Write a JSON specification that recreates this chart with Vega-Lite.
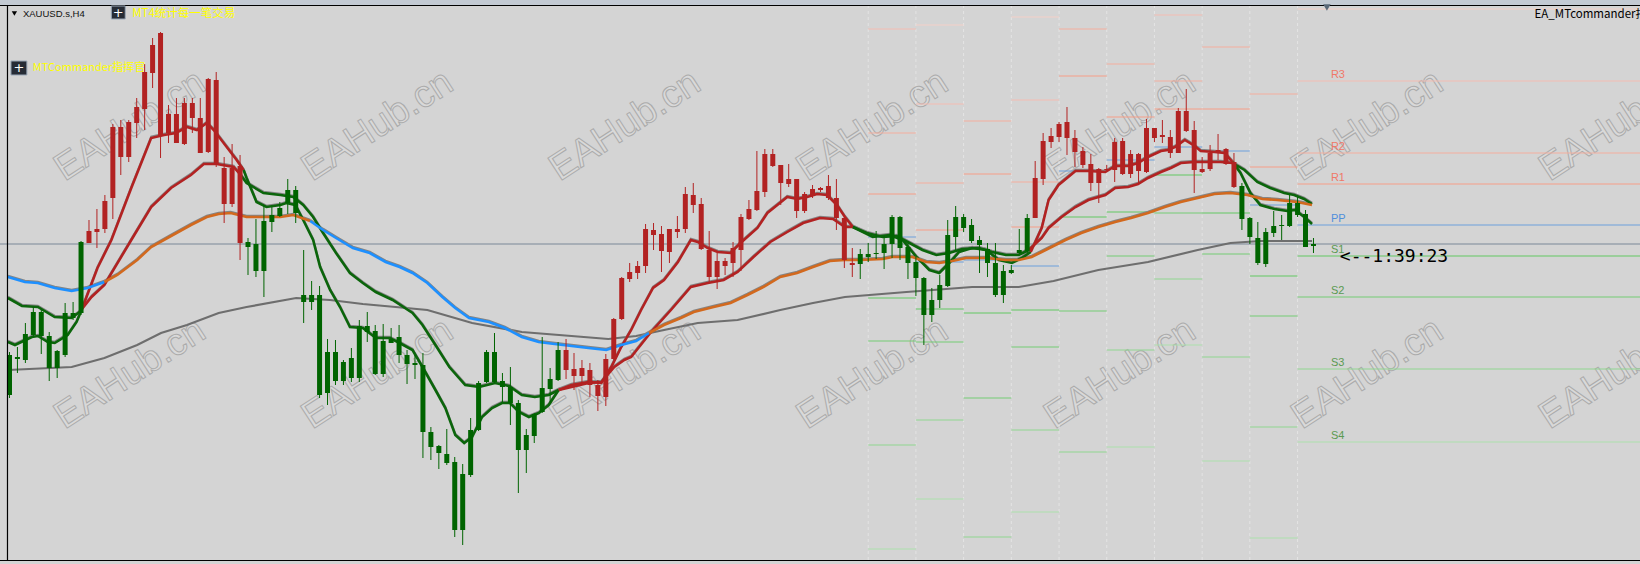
{
"$schema": "https://vega.github.io/schema/vega-lite/v6.json",
"width": 1640, "height": 564, "padding": 0, "autosize": {"type": "none"},
"background": "#d4d4d4",
"config": {"view": {"stroke": null}},
"resolve": {"scale": {"color": "independent"}},
"datasets": {
"candles": [
{"i":0,"o":245,"h":248,"l":202,"c":205,"t":"g"},{"i":1,"o":243,"h":253,"l":227,"c":241,"t":"g"},{"i":2,"o":266,"h":277,"l":237,"c":240,"t":"g"},{"i":3,"o":288,"h":293,"l":263,"c":265,"t":"g"},{"i":4,"o":288,"h":290,"l":246,"c":264,"t":"g"},{"i":5,"o":264,"h":268,"l":219,"c":232,"t":"g"},{"i":6,"o":249,"h":250,"l":222,"c":232,"t":"g"},{"i":7,"o":287,"h":297,"l":243,"c":245,"t":"g"},{"i":8,"o":287,"h":298,"l":280,"c":282,"t":"g"},{"i":9,"o":358,"h":359,"l":285,"c":287,"t":"g"},
{"i":10,"o":357,"h":380,"l":357,"c":369,"t":"r"},{"i":11,"o":368,"h":391,"l":352,"c":371,"t":"r"},{"i":12,"o":371,"h":405,"l":367,"c":399,"t":"r"},{"i":13,"o":402,"h":476,"l":381,"c":473,"t":"r"},{"i":14,"o":443,"h":480,"l":425,"c":473,"t":"r"},{"i":15,"o":443,"h":480,"l":438,"c":478,"t":"r"},{"i":16,"o":477,"h":502,"l":462,"c":493,"t":"r"},{"i":17,"o":491,"h":536,"l":470,"c":528,"t":"r"},{"i":18,"o":527,"h":562,"l":512,"c":555,"t":"r"},{"i":19,"o":464,"h":568,"l":442,"c":567,"t":"r"},
{"i":20,"o":467,"h":495,"l":457,"c":486,"t":"r"},{"i":21,"o":457,"h":502,"l":457,"c":486,"t":"r"},{"i":22,"o":456,"h":502,"l":455,"c":497,"t":"r"},{"i":23,"o":482,"h":502,"l":467,"c":497,"t":"r"},{"i":24,"o":447,"h":502,"l":447,"c":482,"t":"r"},{"i":25,"o":448,"h":522,"l":447,"c":521,"t":"r"},{"i":26,"o":437,"h":528,"l":433,"c":520,"t":"r"},{"i":27,"o":396,"h":443,"l":377,"c":432,"t":"r"},{"i":28,"o":396,"h":456,"l":393,"c":432,"t":"r"},{"i":29,"o":357,"h":445,"l":340,"c":434,"t":"r"},
{"i":30,"o":358,"h":362,"l":325,"c":353,"t":"g"},{"i":31,"o":356,"h":381,"l":323,"c":329,"t":"g"},{"i":32,"o":379,"h":395,"l":303,"c":329,"t":"g"},{"i":33,"o":385,"h":393,"l":368,"c":378,"t":"g"},{"i":34,"o":392,"h":398,"l":383,"c":384,"t":"g"},{"i":35,"o":410,"h":421,"l":386,"c":397,"t":"g"},{"i":36,"o":410,"h":414,"l":377,"c":387,"t":"g"},{"i":37,"o":305,"h":350,"l":277,"c":298,"t":"g"},{"i":38,"o":305,"h":319,"l":290,"c":298,"t":"g"},{"i":39,"o":305,"h":314,"l":202,"c":205,"t":"g"},
{"i":40,"o":248,"h":261,"l":195,"c":207,"t":"g"},{"i":41,"o":248,"h":260,"l":215,"c":219,"t":"g"},{"i":42,"o":238,"h":240,"l":215,"c":219,"t":"g"},{"i":43,"o":242,"h":252,"l":218,"c":222,"t":"g"},{"i":44,"o":274,"h":280,"l":218,"c":222,"t":"g"},{"i":45,"o":274,"h":288,"l":258,"c":268,"t":"g"},{"i":46,"o":269,"h":275,"l":225,"c":226,"t":"g"},{"i":47,"o":259,"h":276,"l":223,"c":226,"t":"g"},{"i":48,"o":261,"h":272,"l":257,"c":257,"t":"g"},{"i":49,"o":263,"h":275,"l":237,"c":245,"t":"g"},
{"i":50,"o":245,"h":250,"l":216,"c":236,"t":"g"},{"i":51,"o":237,"h":245,"l":221,"c":235,"t":"g"},{"i":52,"o":235,"h":247,"l":142,"c":168,"t":"g"},{"i":53,"o":168,"h":173,"l":140,"c":153,"t":"g"},{"i":54,"o":154,"h":155,"l":131,"c":147,"t":"g"},{"i":55,"o":146,"h":171,"l":135,"c":137,"t":"g"},{"i":56,"o":138,"h":143,"l":63,"c":70,"t":"g"},{"i":57,"o":126,"h":136,"l":55,"c":70,"t":"g"},{"i":58,"o":170,"h":182,"l":123,"c":125,"t":"g"},{"i":59,"o":217,"h":219,"l":169,"c":170,"t":"g"},
{"i":60,"o":248,"h":250,"l":217,"c":218,"t":"g"},{"i":61,"o":248,"h":267,"l":217,"c":218,"t":"g"},{"i":62,"o":219,"h":227,"l":198,"c":213,"t":"g"},{"i":63,"o":213,"h":233,"l":175,"c":197,"t":"g"},{"i":64,"o":197,"h":200,"l":107,"c":150,"t":"g"},{"i":65,"o":165,"h":171,"l":127,"c":150,"t":"g"},{"i":66,"o":186,"h":187,"l":157,"c":164,"t":"g"},{"i":67,"o":212,"h":263,"l":187,"c":188,"t":"g"},{"i":68,"o":221,"h":232,"l":198,"c":211,"t":"g"},{"i":69,"o":250,"h":258,"l":219,"c":220,"t":"g"},
{"i":70,"o":230,"h":261,"l":221,"c":250,"t":"r"},{"i":71,"o":224,"h":247,"l":210,"c":231,"t":"r"},{"i":72,"o":224,"h":240,"l":218,"c":232,"t":"r"},{"i":73,"o":215,"h":237,"l":203,"c":230,"t":"r"},{"i":74,"o":204,"h":220,"l":189,"c":215,"t":"r"},{"i":75,"o":203,"h":246,"l":194,"c":241,"t":"r"},{"i":76,"o":241,"h":282,"l":240,"c":281,"t":"r"},{"i":77,"o":281,"h":323,"l":280,"c":322,"t":"r"},{"i":78,"o":321,"h":337,"l":318,"c":328,"t":"r"},{"i":79,"o":327,"h":339,"l":321,"c":334,"t":"r"},
{"i":80,"o":334,"h":376,"l":327,"c":371,"t":"r"},{"i":81,"o":365,"h":377,"l":350,"c":370,"t":"r"},{"i":82,"o":349,"h":374,"l":328,"c":366,"t":"r"},{"i":83,"o":348,"h":371,"l":337,"c":371,"t":"r"},{"i":84,"o":368,"h":384,"l":362,"c":371,"t":"r"},{"i":85,"o":371,"h":413,"l":367,"c":406,"t":"r"},{"i":86,"o":395,"h":417,"l":387,"c":405,"t":"r"},{"i":87,"o":351,"h":402,"l":350,"c":396,"t":"r"},{"i":88,"o":323,"h":369,"l":317,"c":350,"t":"r"},{"i":89,"o":323,"h":347,"l":311,"c":339,"t":"r"},
{"i":90,"o":334,"h":342,"l":325,"c":339,"t":"r"},{"i":91,"o":337,"h":358,"l":323,"c":352,"t":"r"},{"i":92,"o":350,"h":386,"l":329,"c":383,"t":"r"},{"i":93,"o":381,"h":400,"l":380,"c":391,"t":"r"},{"i":94,"o":390,"h":449,"l":389,"c":409,"t":"r"},{"i":95,"o":408,"h":451,"l":403,"c":446,"t":"r"},{"i":96,"o":434,"h":451,"l":433,"c":446,"t":"r"},{"i":97,"o":417,"h":435,"l":395,"c":435,"t":"r"},{"i":98,"o":416,"h":436,"l":413,"c":421,"t":"r"},{"i":99,"o":389,"h":421,"l":382,"c":421,"t":"r"},
{"i":100,"o":389,"h":408,"l":387,"c":406,"t":"r"},{"i":101,"o":404,"h":415,"l":402,"c":411,"t":"r"},{"i":102,"o":410,"h":413,"l":408,"c":412,"t":"r"},{"i":103,"o":402,"h":425,"l":400,"c":414,"t":"r"},{"i":104,"o":382,"h":421,"l":370,"c":402,"t":"r"},{"i":105,"o":340,"h":383,"l":332,"c":382,"t":"r"},{"i":106,"o":335,"h":352,"l":323,"c":337,"t":"r"},{"i":107,"o":346,"h":351,"l":321,"c":336,"t":"g"},{"i":108,"o":346,"h":357,"l":338,"c":343,"t":"g"},{"i":109,"o":347,"h":369,"l":341,"c":346,"t":"g"},
{"i":110,"o":356,"h":364,"l":331,"c":347,"t":"g"},{"i":111,"o":383,"h":385,"l":342,"c":356,"t":"g"},{"i":112,"o":383,"h":384,"l":340,"c":352,"t":"g"},{"i":113,"o":353,"h":357,"l":321,"c":337,"t":"g"},{"i":114,"o":338,"h":343,"l":304,"c":322,"t":"g"},{"i":115,"o":322,"h":323,"l":255,"c":285,"t":"g"},{"i":116,"o":300,"h":312,"l":278,"c":285,"t":"g"},{"i":117,"o":315,"h":325,"l":292,"c":300,"t":"g"},{"i":118,"o":365,"h":380,"l":313,"c":314,"t":"g"},{"i":119,"o":383,"h":394,"l":350,"c":363,"t":"g"},
{"i":120,"o":383,"h":386,"l":368,"c":372,"t":"g"},{"i":121,"o":375,"h":381,"l":357,"c":359,"t":"g"},{"i":122,"o":360,"h":364,"l":327,"c":355,"t":"g"},{"i":123,"o":351,"h":357,"l":323,"c":337,"t":"g"},{"i":124,"o":337,"h":357,"l":303,"c":305,"t":"g"},{"i":125,"o":329,"h":335,"l":297,"c":305,"t":"g"},{"i":126,"o":330,"h":335,"l":326,"c":327,"t":"g"},{"i":127,"o":350,"h":371,"l":346,"c":347,"t":"g"},{"i":128,"o":382,"h":386,"l":347,"c":349,"t":"g"},{"i":129,"o":382,"h":439,"l":382,"c":422,"t":"r"},
{"i":130,"o":421,"h":467,"l":415,"c":459,"t":"r"},{"i":131,"o":458,"h":472,"l":452,"c":464,"t":"r"},{"i":132,"o":463,"h":478,"l":458,"c":476,"t":"r"},{"i":133,"o":462,"h":493,"l":445,"c":478,"t":"r"},{"i":134,"o":448,"h":470,"l":433,"c":462,"t":"r"},{"i":135,"o":435,"h":453,"l":432,"c":449,"t":"r"},{"i":136,"o":417,"h":446,"l":409,"c":436,"t":"r"},{"i":137,"o":417,"h":432,"l":397,"c":431,"t":"r"},{"i":138,"o":430,"h":435,"l":428,"c":431,"t":"r"},{"i":139,"o":430,"h":462,"l":418,"c":458,"t":"r"},
{"i":140,"o":426,"h":462,"l":425,"c":459,"t":"r"},{"i":141,"o":426,"h":450,"l":422,"c":446,"t":"r"},{"i":142,"o":429,"h":447,"l":417,"c":446,"t":"r"},{"i":143,"o":428,"h":481,"l":427,"c":472,"t":"r"},{"i":144,"o":462,"h":472,"l":458,"c":472,"t":"r"},{"i":145,"o":463,"h":480,"l":457,"c":465,"t":"r"},{"i":146,"o":447,"h":470,"l":442,"c":463,"t":"r"},{"i":147,"o":447,"h":492,"l":447,"c":489,"t":"r"},{"i":148,"o":469,"h":511,"l":468,"c":489,"t":"r"},{"i":149,"o":430,"h":479,"l":407,"c":470,"t":"r"},
{"i":150,"o":428,"h":443,"l":427,"c":431,"t":"r"},{"i":151,"o":431,"h":455,"l":429,"c":447,"t":"r"},{"i":152,"o":447,"h":466,"l":440,"c":450,"t":"r"},{"i":153,"o":436,"h":452,"l":435,"c":451,"t":"r"},{"i":154,"o":413,"h":447,"l":412,"c":438,"t":"r"},{"i":155,"o":414,"h":417,"l":370,"c":381,"t":"g"},{"i":156,"o":382,"h":383,"l":356,"c":363,"t":"g"},{"i":157,"o":362,"h":378,"l":335,"c":337,"t":"g"},{"i":158,"o":368,"h":372,"l":333,"c":336,"t":"g"},{"i":159,"o":374,"h":389,"l":363,"c":367,"t":"g"},
{"i":160,"o":375,"h":385,"l":360,"c":374,"t":"g"},{"i":161,"o":397,"h":405,"l":373,"c":374,"t":"g"},{"i":162,"o":397,"h":403,"l":383,"c":385,"t":"g"},{"i":163,"o":386,"h":390,"l":353,"c":353,"t":"g"},{"i":164,"o":356,"h":362,"l":347,"c":354,"t":"g"}
],
"ma": [
{"s":"f1","k":"g","i":-0.19,"v":258},{"s":"f1","k":"g","i":0.69,"v":255},{"s":"f1","k":"g","i":2.82,"v":263},{"s":"f1","k":"g","i":3.57,"v":264},{"s":"f1","k":"g","i":4.82,"v":258},{"s":"f1","k":"g","i":5.69,"v":257},{"s":"f1","k":"g","i":7.32,"v":265},{"s":"f1","k":"g","i":8.44,"v":278},{"s":"f1","k":"g","i":9.07,"v":290},
{"s":"f2","k":"r","i":9.07,"v":290},{"s":"f2","k":"r","i":11.07,"v":332},{"s":"f2","k":"r","i":12.82,"v":360},{"s":"f2","k":"r","i":15.32,"v":412},{"s":"f2","k":"r","i":17.82,"v":462},{"s":"f2","k":"r","i":19.44,"v":465},{"s":"f2","k":"r","i":20.94,"v":467},{"s":"f2","k":"r","i":22.32,"v":473},{"s":"f2","k":"r","i":23.57,"v":470},{"s":"f2","k":"r","i":24.82,"v":477},{"s":"f2","k":"r","i":25.69,"v":470},{"s":"f2","k":"r","i":27.32,"v":453},{"s":"f2","k":"r","i":28.57,"v":440},{"s":"f2","k":"r","i":29.44,"v":430},
{"s":"f3","k":"g","i":29.44,"v":430},{"s":"f3","k":"g","i":29.82,"v":422},{"s":"f3","k":"g","i":31.07,"v":398},{"s":"f3","k":"g","i":32.32,"v":393},{"s":"f3","k":"g","i":34.07,"v":395},{"s":"f3","k":"g","i":34.82,"v":397},{"s":"f3","k":"g","i":35.94,"v":395},{"s":"f3","k":"g","i":36.94,"v":380},{"s":"f3","k":"g","i":38.19,"v":360},{"s":"f3","k":"g","i":39.07,"v":333},{"s":"f3","k":"g","i":40.32,"v":310},{"s":"f3","k":"g","i":41.57,"v":293},{"s":"f3","k":"g","i":42.82,"v":273},{"s":"f3","k":"g","i":44.44,"v":272},{"s":"f3","k":"g","i":46.07,"v":262},{"s":"f3","k":"g","i":47.82,"v":262},{"s":"f3","k":"g","i":49.07,"v":257},{"s":"f3","k":"g","i":50.69,"v":250},{"s":"f3","k":"g","i":51.94,"v":233},{"s":"f3","k":"g","i":53.57,"v":210},{"s":"f3","k":"g","i":54.82,"v":192},{"s":"f3","k":"g","i":56.07,"v":165},{"s":"f3","k":"g","i":57.19,"v":157},{"s":"f3","k":"g","i":58.19,"v":163},{"s":"f3","k":"g","i":59.44,"v":183},{"s":"f3","k":"g","i":60.69,"v":192},{"s":"f3","k":"g","i":61.94,"v":197},{"s":"f3","k":"g","i":62.94,"v":197},{"s":"f3","k":"g","i":64.07,"v":188},{"s":"f3","k":"g","i":65.32,"v":183},{"s":"f3","k":"g","i":66.57,"v":187},{"s":"f3","k":"g","i":67.82,"v":195},{"s":"f3","k":"g","i":69.07,"v":210},
{"s":"f4","k":"r","i":69.07,"v":210},{"s":"f4","k":"r","i":70.69,"v":215},{"s":"f4","k":"r","i":72.82,"v":218},{"s":"f4","k":"r","i":74.44,"v":217},{"s":"f4","k":"r","i":75.69,"v":233},{"s":"f4","k":"r","i":76.94,"v":253},{"s":"f4","k":"r","i":78.19,"v":270},{"s":"f4","k":"r","i":79.44,"v":290},{"s":"f4","k":"r","i":80.94,"v":312},{"s":"f4","k":"r","i":82.32,"v":320},{"s":"f4","k":"r","i":84.07,"v":338},{"s":"f4","k":"r","i":85.69,"v":360},{"s":"f4","k":"r","i":86.57,"v":358},{"s":"f4","k":"r","i":87.82,"v":352},{"s":"f4","k":"r","i":89.07,"v":348},{"s":"f4","k":"r","i":90.69,"v":347},{"s":"f4","k":"r","i":91.94,"v":357},{"s":"f4","k":"r","i":94.07,"v":372},{"s":"f4","k":"r","i":95.32,"v":387},{"s":"f4","k":"r","i":96.57,"v":395},{"s":"f4","k":"r","i":97.82,"v":403},{"s":"f4","k":"r","i":99.07,"v":401},{"s":"f4","k":"r","i":100.32,"v":403},{"s":"f4","k":"r","i":101.57,"v":406},{"s":"f4","k":"r","i":102.82,"v":405},{"s":"f4","k":"r","i":104.07,"v":395},{"s":"f4","k":"r","i":105.07,"v":383},{"s":"f4","k":"r","i":106.07,"v":373},
{"s":"f5","k":"g","i":106.07,"v":373},{"s":"f5","k":"g","i":108.57,"v":363},{"s":"f5","k":"g","i":110.69,"v":365},{"s":"f5","k":"g","i":112.32,"v":360},{"s":"f5","k":"g","i":114.07,"v":343},{"s":"f5","k":"g","i":115.69,"v":330},{"s":"f5","k":"g","i":116.94,"v":327},{"s":"f5","k":"g","i":118.19,"v":337},{"s":"f5","k":"g","i":119.44,"v":348},{"s":"f5","k":"g","i":121.07,"v":352},{"s":"f5","k":"g","i":122.82,"v":350},{"s":"f5","k":"g","i":124.44,"v":340},{"s":"f5","k":"g","i":126.07,"v":337},{"s":"f5","k":"g","i":127.32,"v":342},{"s":"f5","k":"g","i":128.44,"v":348},
{"s":"f6","k":"r","i":128.44,"v":348},{"s":"f6","k":"r","i":129.82,"v":372},{"s":"f6","k":"r","i":130.69,"v":400},{"s":"f6","k":"r","i":131.94,"v":415},{"s":"f6","k":"r","i":134.07,"v":429},{"s":"f6","k":"r","i":135.69,"v":429},{"s":"f6","k":"r","i":137.82,"v":428},{"s":"f6","k":"r","i":139.07,"v":434},{"s":"f6","k":"r","i":140.69,"v":434},{"s":"f6","k":"r","i":141.94,"v":437},{"s":"f6","k":"r","i":143.19,"v":443},{"s":"f6","k":"r","i":144.82,"v":449},{"s":"f6","k":"r","i":145.69,"v":450},{"s":"f6","k":"r","i":146.57,"v":453},{"s":"f6","k":"r","i":147.82,"v":460},{"s":"f6","k":"r","i":149.07,"v":454},{"s":"f6","k":"r","i":149.82,"v":449},{"s":"f6","k":"r","i":151.57,"v":448},{"s":"f6","k":"r","i":152.82,"v":447},{"s":"f6","k":"r","i":153.82,"v":438},
{"s":"f7","k":"g","i":153.82,"v":438},{"s":"f7","k":"g","i":154.82,"v":427},{"s":"f7","k":"g","i":156.07,"v":407},{"s":"f7","k":"g","i":157.32,"v":395},{"s":"f7","k":"g","i":159.07,"v":391},{"s":"f7","k":"g","i":160.69,"v":389},{"s":"f7","k":"g","i":161.69,"v":390},{"s":"f7","k":"g","i":162.82,"v":383},{"s":"f7","k":"g","i":163.82,"v":376},
{"s":"s1","k":"g","i":-0.19,"v":302},{"s":"s1","k":"g","i":1.57,"v":294},{"s":"s1","k":"g","i":3.57,"v":293},{"s":"s1","k":"g","i":5.69,"v":283},{"s":"s1","k":"g","i":7.82,"v":282},{"s":"s1","k":"g","i":8.82,"v":288},
{"s":"s2","k":"r","i":8.82,"v":288},{"s":"s2","k":"r","i":10.32,"v":303},{"s":"s2","k":"r","i":11.94,"v":315},{"s":"s2","k":"r","i":15.32,"v":360},{"s":"s2","k":"r","i":17.82,"v":393},{"s":"s2","k":"r","i":20.32,"v":412},{"s":"s2","k":"r","i":22.82,"v":425},{"s":"s2","k":"r","i":24.44,"v":436},{"s":"s2","k":"r","i":26.07,"v":436},{"s":"s2","k":"r","i":28.19,"v":433},{"s":"s2","k":"r","i":29.07,"v":425},
{"s":"s3","k":"g","i":29.07,"v":425},{"s":"s3","k":"g","i":29.82,"v":417},{"s":"s3","k":"g","i":31.94,"v":407},{"s":"s3","k":"g","i":34.07,"v":405},{"s":"s3","k":"g","i":35.69,"v":403},{"s":"s3","k":"g","i":36.94,"v":395},{"s":"s3","k":"g","i":38.19,"v":383},{"s":"s3","k":"g","i":39.44,"v":367},{"s":"s3","k":"g","i":41.07,"v":347},{"s":"s3","k":"g","i":42.82,"v":327},{"s":"s3","k":"g","i":44.44,"v":317},{"s":"s3","k":"g","i":46.07,"v":308},{"s":"s3","k":"g","i":48.19,"v":300},{"s":"s3","k":"g","i":50.69,"v":287},{"s":"s3","k":"g","i":51.94,"v":275},{"s":"s3","k":"g","i":53.57,"v":255},{"s":"s3","k":"g","i":55.32,"v":233},{"s":"s3","k":"g","i":57.32,"v":215},{"s":"s3","k":"g","i":59.07,"v":213},{"s":"s3","k":"g","i":61.07,"v":217},{"s":"s3","k":"g","i":62.82,"v":214},{"s":"s3","k":"g","i":64.44,"v":205},{"s":"s3","k":"g","i":66.07,"v":203},{"s":"s3","k":"g","i":67.82,"v":205},{"s":"s3","k":"g","i":69.07,"v":210},
{"s":"s4","k":"r","i":69.07,"v":210},{"s":"s4","k":"r","i":70.69,"v":213},{"s":"s4","k":"r","i":72.82,"v":217},{"s":"s4","k":"r","i":74.44,"v":218},{"s":"s4","k":"r","i":76.07,"v":233},{"s":"s4","k":"r","i":77.32,"v":240},{"s":"s4","k":"r","i":78.19,"v":243},{"s":"s4","k":"r","i":80.69,"v":268},{"s":"s4","k":"r","i":83.19,"v":290},{"s":"s4","k":"r","i":85.69,"v":313},{"s":"s4","k":"r","i":87.82,"v":317},{"s":"s4","k":"r","i":89.82,"v":320},{"s":"s4","k":"r","i":91.57,"v":328},{"s":"s4","k":"r","i":93.57,"v":343},{"s":"s4","k":"r","i":95.69,"v":358},{"s":"s4","k":"r","i":97.82,"v":368},{"s":"s4","k":"r","i":99.82,"v":377},{"s":"s4","k":"r","i":101.94,"v":382},{"s":"s4","k":"r","i":103.57,"v":381},{"s":"s4","k":"r","i":105.07,"v":373},{"s":"s4","k":"r","i":106.07,"v":373},
{"s":"s5","k":"g","i":106.07,"v":373},{"s":"s5","k":"g","i":107.82,"v":367},{"s":"s5","k":"g","i":109.82,"v":363},{"s":"s5","k":"g","i":111.57,"v":364},{"s":"s5","k":"g","i":113.19,"v":357},{"s":"s5","k":"g","i":114.82,"v":350},{"s":"s5","k":"g","i":116.57,"v":345},{"s":"s5","k":"g","i":118.19,"v":347},{"s":"s5","k":"g","i":119.82,"v":351},{"s":"s5","k":"g","i":121.94,"v":352},{"s":"s5","k":"g","i":123.57,"v":348},{"s":"s5","k":"g","i":125.32,"v":345},{"s":"s5","k":"g","i":126.94,"v":345},{"s":"s5","k":"g","i":128.19,"v":350},
{"s":"s6","k":"r","i":128.19,"v":350},{"s":"s6","k":"r","i":129.82,"v":362},{"s":"s6","k":"r","i":130.69,"v":372},{"s":"s6","k":"r","i":132.32,"v":383},{"s":"s6","k":"r","i":134.07,"v":393},{"s":"s6","k":"r","i":135.69,"v":400},{"s":"s6","k":"r","i":137.82,"v":405},{"s":"s6","k":"r","i":139.07,"v":412},{"s":"s6","k":"r","i":140.69,"v":413},{"s":"s6","k":"r","i":141.94,"v":416},{"s":"s6","k":"r","i":143.19,"v":422},{"s":"s6","k":"r","i":144.82,"v":428},{"s":"s6","k":"r","i":146.07,"v":432},{"s":"s6","k":"r","i":147.32,"v":437},{"s":"s6","k":"r","i":149.07,"v":438},{"s":"s6","k":"r","i":150.69,"v":438},{"s":"s6","k":"r","i":152.32,"v":438},{"s":"s6","k":"r","i":153.82,"v":437},
{"s":"s7","k":"g","i":153.82,"v":437},{"s":"s7","k":"g","i":155.32,"v":430},{"s":"s7","k":"g","i":156.94,"v":418},{"s":"s7","k":"g","i":158.57,"v":412},{"s":"s7","k":"g","i":160.32,"v":407},{"s":"s7","k":"g","i":161.57,"v":405},{"s":"s7","k":"g","i":162.82,"v":401},{"s":"s7","k":"g","i":163.82,"v":396},
{"s":"m1","k":"b","i":-0.19,"v":323},{"s":"m1","k":"b","i":1.94,"v":318},{"s":"m1","k":"b","i":3.57,"v":317},{"s":"m1","k":"b","i":5.69,"v":312},{"s":"m1","k":"b","i":7.82,"v":309},{"s":"m1","k":"b","i":9.82,"v":312},{"s":"m1","k":"b","i":11.94,"v":318},
{"s":"m2","k":"o","i":11.94,"v":318},{"s":"m2","k":"o","i":13.56,"v":325},{"s":"m2","k":"o","i":16.06,"v":340},{"s":"m2","k":"o","i":17.82,"v":353},{"s":"m2","k":"o","i":20.32,"v":364},{"s":"m2","k":"o","i":22.82,"v":375},{"s":"m2","k":"o","i":24.82,"v":383},{"s":"m2","k":"o","i":26.31,"v":386},{"s":"m2","k":"o","i":27.82,"v":387},{"s":"m2","k":"o","i":29.82,"v":383},{"s":"m2","k":"o","i":31.94,"v":383},{"s":"m2","k":"o","i":34.07,"v":383},{"s":"m2","k":"o","i":35.69,"v":385},{"s":"m2","k":"o","i":37.82,"v":379},
{"s":"m3","k":"b","i":37.82,"v":379},{"s":"m3","k":"b","i":39.44,"v":370},{"s":"m3","k":"b","i":41.07,"v":362},{"s":"m3","k":"b","i":43.19,"v":352},{"s":"m3","k":"b","i":45.31,"v":347},{"s":"m3","k":"b","i":47.31,"v":338},{"s":"m3","k":"b","i":49.07,"v":333},{"s":"m3","k":"b","i":50.69,"v":327},{"s":"m3","k":"b","i":52.56,"v":317},{"s":"m3","k":"b","i":54.44,"v":303},{"s":"m3","k":"b","i":56.06,"v":292},{"s":"m3","k":"b","i":57.81,"v":282},{"s":"m3","k":"b","i":60.31,"v":278},{"s":"m3","k":"b","i":62.31,"v":272},{"s":"m3","k":"b","i":64.44,"v":263},{"s":"m3","k":"b","i":66.56,"v":258},{"s":"m3","k":"b","i":68.56,"v":256},{"s":"m3","k":"b","i":70.69,"v":254},{"s":"m3","k":"b","i":72.82,"v":252},{"s":"m3","k":"b","i":75.06,"v":250},{"s":"m3","k":"b","i":76.94,"v":255},{"s":"m3","k":"b","i":78.81,"v":259},{"s":"m3","k":"b","i":80.44,"v":267},
{"s":"m4","k":"o","i":80.44,"v":267},{"s":"m4","k":"o","i":82.31,"v":275},{"s":"m4","k":"o","i":84.44,"v":282},{"s":"m4","k":"o","i":86.06,"v":288},{"s":"m4","k":"o","i":88.56,"v":293},{"s":"m4","k":"o","i":90.69,"v":297},{"s":"m4","k":"o","i":92.81,"v":305},{"s":"m4","k":"o","i":94.81,"v":313},{"s":"m4","k":"o","i":96.94,"v":323},{"s":"m4","k":"o","i":99.06,"v":327},{"s":"m4","k":"o","i":101.06,"v":333},{"s":"m4","k":"o","i":103.19,"v":339},{"s":"m4","k":"o","i":105.06,"v":340},{"s":"m4","k":"o","i":106.94,"v":340},{"s":"m4","k":"o","i":109.81,"v":341},{"s":"m4","k":"o","i":111.06,"v":343},{"s":"m4","k":"o","i":113.56,"v":343},{"s":"m4","k":"o","i":115.31,"v":338},{"s":"m4","k":"o","i":116.94,"v":337},{"s":"m4","k":"o","i":118.56,"v":339},{"s":"m4","k":"o","i":120.31,"v":342},{"s":"m4","k":"o","i":122.81,"v":342},{"s":"m4","k":"o","i":125.31,"v":340},{"s":"m4","k":"o","i":126.94,"v":340},{"s":"m4","k":"o","i":128.56,"v":343},{"s":"m4","k":"o","i":129.81,"v":348},{"s":"m4","k":"o","i":131.31,"v":354},{"s":"m4","k":"o","i":132.81,"v":360},{"s":"m4","k":"o","i":134.81,"v":367},{"s":"m4","k":"o","i":136.94,"v":373},{"s":"m4","k":"o","i":139.06,"v":378},{"s":"m4","k":"o","i":141.06,"v":382},{"s":"m4","k":"o","i":143.19,"v":387},{"s":"m4","k":"o","i":145.31,"v":393},{"s":"m4","k":"o","i":147.31,"v":398},{"s":"m4","k":"o","i":149.44,"v":402},{"s":"m4","k":"o","i":151.56,"v":406},{"s":"m4","k":"o","i":153.56,"v":407},{"s":"m4","k":"o","i":155.69,"v":405},{"s":"m4","k":"o","i":157.56,"v":401},{"s":"m4","k":"o","i":159.44,"v":400},{"s":"m4","k":"o","i":161.94,"v":398},{"s":"m4","k":"o","i":163.81,"v":395}
],
"gma": [
{"i":-0.19,"v":230},{"i":7.82,"v":233},{"i":11.94,"v":242},{"i":16.06,"v":255},{"i":19.06,"v":267},{"i":22.32,"v":275},{"i":26.31,"v":287},{"i":29.82,"v":293},{"i":36.06,"v":302},{"i":40.32,"v":300},{"i":44.44,"v":296},{"i":48.56,"v":293},{"i":52.56,"v":290},{"i":58.19,"v":277},{"i":64.44,"v":268},{"i":70.69,"v":264},{"i":75.31,"v":261},{"i":78.81,"v":264},{"i":82.32,"v":270},{"i":86.56,"v":277},{"i":91.57,"v":280},{"i":96.94,"v":290},{"i":101.06,"v":297},{"i":105.07,"v":303},{"i":112.81,"v":308},{"i":121.07,"v":313},{"i":126.94,"v":313},{"i":131.31,"v":319},{"i":136.94,"v":330},{"i":143.19,"v":338},{"i":149.44,"v":350},{"i":153.56,"v":357},{"i":157.32,"v":359},{"i":163.82,"v":359}
],
"seps": [{"i":108},{"i":114},{"i":120},{"i":126},{"i":132},{"i":138},{"i":144},{"i":150},{"i":156},{"i":162}],
"pivots": [
{"s":108,"e":114,"lvl":"R3","v":571},{"s":108,"e":114,"lvl":"R2","v":467},{"s":108,"e":114,"lvl":"R1","v":406},{"s":108,"e":114,"lvl":"PP","v":363},{"s":108,"e":114,"lvl":"S1","v":302},{"s":108,"e":114,"lvl":"S2","v":259},{"s":108,"e":114,"lvl":"S3","v":155},{"s":108,"e":114,"lvl":"S4","v":51},
{"s":114,"e":120,"lvl":"R4","v":575},{"s":114,"e":120,"lvl":"R3","v":496},{"s":114,"e":120,"lvl":"R2","v":417},{"s":114,"e":120,"lvl":"R1","v":370},{"s":114,"e":120,"lvl":"PP","v":338},{"s":114,"e":120,"lvl":"S1","v":291},{"s":114,"e":120,"lvl":"S2","v":258},{"s":114,"e":120,"lvl":"S3","v":180},{"s":114,"e":120,"lvl":"S4","v":101},
{"s":120,"e":126,"lvl":"R2","v":479},{"s":120,"e":126,"lvl":"R1","v":426},{"s":120,"e":126,"lvl":"PP","v":340},{"s":120,"e":126,"lvl":"S1","v":287},{"s":120,"e":126,"lvl":"S2","v":202},{"s":120,"e":126,"lvl":"S3","v":63},
{"s":126,"e":132,"lvl":"R4","v":583},{"s":126,"e":132,"lvl":"R3","v":500},{"s":126,"e":132,"lvl":"R2","v":418},{"s":126,"e":132,"lvl":"R1","v":373},{"s":126,"e":132,"lvl":"PP","v":334},{"s":126,"e":132,"lvl":"S1","v":290},{"s":126,"e":132,"lvl":"S2","v":253},{"s":126,"e":132,"lvl":"S3","v":170},{"s":126,"e":132,"lvl":"S4","v":88},
{"s":132,"e":138,"lvl":"R2","v":571},{"s":132,"e":138,"lvl":"R1","v":524},{"s":132,"e":138,"lvl":"PP","v":429},{"s":132,"e":138,"lvl":"S1","v":383},{"s":132,"e":138,"lvl":"S2","v":289},{"s":132,"e":138,"lvl":"S3","v":148},
{"s":138,"e":144,"lvl":"R2","v":536},{"s":138,"e":144,"lvl":"R1","v":483},{"s":138,"e":144,"lvl":"PP","v":440},{"s":138,"e":144,"lvl":"S1","v":388},{"s":138,"e":144,"lvl":"S2","v":344},{"s":138,"e":144,"lvl":"S3","v":250},{"s":138,"e":144,"lvl":"S4","v":153},
{"s":144,"e":150,"lvl":"R3","v":585},{"s":144,"e":150,"lvl":"R2","v":519},{"s":144,"e":150,"lvl":"R1","v":491},{"s":144,"e":150,"lvl":"PP","v":453},{"s":144,"e":150,"lvl":"S1","v":425},{"s":144,"e":150,"lvl":"S2","v":387},{"s":144,"e":150,"lvl":"S3","v":321},{"s":144,"e":150,"lvl":"S4","v":255},
{"s":150,"e":156,"lvl":"R2","v":553},{"s":150,"e":156,"lvl":"R1","v":491},{"s":150,"e":156,"lvl":"PP","v":449},{"s":150,"e":156,"lvl":"S1","v":387},{"s":150,"e":156,"lvl":"S2","v":346},{"s":150,"e":156,"lvl":"S3","v":243},{"s":150,"e":156,"lvl":"S4","v":139},
{"s":156,"e":162,"lvl":"R2","v":506},{"s":156,"e":162,"lvl":"R1","v":433},{"s":156,"e":162,"lvl":"PP","v":395},{"s":156,"e":162,"lvl":"S1","v":324},{"s":156,"e":162,"lvl":"S2","v":284},{"s":156,"e":162,"lvl":"S3","v":173},{"s":156,"e":162,"lvl":"S4","v":62},
{"s":162,"e":206,"lvl":"R4","v":591},{"s":162,"e":206,"lvl":"R3","v":519},{"s":162,"e":206,"lvl":"R2","v":447},{"s":162,"e":206,"lvl":"R1","v":416},{"s":162,"e":206,"lvl":"PP","v":375},{"s":162,"e":206,"lvl":"S1","v":344},{"s":162,"e":206,"lvl":"S2","v":303},{"s":162,"e":206,"lvl":"S3","v":231},{"s":162,"e":206,"lvl":"S4","v":158}
],
"labels": [
{"lab":"R3","g":"R","v":519},{"lab":"R2","g":"R","v":447},{"lab":"R1","g":"R","v":416},{"lab":"PP","g":"P","v":375},{"lab":"S1","g":"S","v":344},{"lab":"S2","g":"S","v":303},{"lab":"S3","g":"S","v":231},{"lab":"S4","g":"S","v":158}
],
"wm": [
{"i":15.19,"v":474},{"i":46.31,"v":474},{"i":77.44,"v":474},{"i":108.56,"v":474},{"i":139.69,"v":474},{"i":170.81,"v":474},{"i":201.94,"v":474},
{"i":15.19,"v":226},{"i":46.31,"v":226},{"i":77.44,"v":226},{"i":108.56,"v":226},{"i":139.69,"v":226},{"i":170.81,"v":226},{"i":201.94,"v":226}
],
"one": [{}]
},
"layer": [
{"data": {"name": "wm"},
 "mark": {"type": "text", "text": "EAHub.cn", "font": "Liberation Sans", "fontSize": 38, "angle": -33, "align": "center", "baseline": "middle", "fill": "#d9d9d9", "stroke": "#ababab", "strokeWidth": 1},
 "encoding": {"x": {"field": "i", "type": "quantitative", "scale": {"domain": [-0.5625, 204.4375], "nice": false, "zero": false}, "axis": null},
  "y": {"field": "v", "type": "quantitative", "scale": {"domain": [36, 600], "nice": false, "zero": false}, "axis": null}}},
{"data": {"name": "seps"},
 "mark": {"type": "rule", "color": "#e4e4e4", "strokeWidth": 1, "strokeDash": [3, 3]},
 "encoding": {"x": {"field": "i", "type": "quantitative", "scale": {"domain": [-0.5625, 204.4375], "nice": false, "zero": false}, "axis": null},
  "y": {"datum": 595, "type": "quantitative", "scale": {"domain": [36, 600], "nice": false, "zero": false}, "axis": null}, "y2": {"datum": 40}}},
{"data": {"name": "pivots"},
 "mark": {"type": "rule", "strokeWidth": 1.2, "clip": true},
 "encoding": {"x": {"field": "s", "type": "quantitative", "scale": {"domain": [-0.5625, 204.4375], "nice": false, "zero": false}, "axis": null}, "x2": {"field": "e"},
  "y": {"field": "v", "type": "quantitative", "scale": {"domain": [36, 600], "nice": false, "zero": false}, "axis": null},
  "color": {"field": "lvl", "type": "nominal", "legend": null, "scale": {"domain": ["R4","R3","R2","R1","PP","S1","S2","S3","S4"], "range": ["#f4cfc8","#f4bcb1","#f4ad9e","#f69d88","#6d9fdc","#62c862","#74cc74","#90d690","#ace0ac"]}}}},
{"data": {"name": "one"},
 "mark": {"type": "rule", "color": "#7a8898", "strokeWidth": 1},
 "encoding": {"y": {"datum": 356, "type": "quantitative", "scale": {"domain": [36, 600], "nice": false, "zero": false}, "axis": null}}},
{"data": {"name": "gma"},
 "mark": {"type": "line", "color": "#6e6e6e", "strokeWidth": 2.2},
 "encoding": {"x": {"field": "i", "type": "quantitative", "scale": {"domain": [-0.5625, 204.4375], "nice": false, "zero": false}, "axis": null},
  "y": {"field": "v", "type": "quantitative", "scale": {"domain": [36, 600], "nice": false, "zero": false}, "axis": null}}},
{"data": {"name": "ma"},
 "mark": {"type": "line", "color": "#858585", "strokeWidth": 2, "yOffset": -1.3},
 "encoding": {"x": {"field": "i", "type": "quantitative", "scale": {"domain": [-0.5625, 204.4375], "nice": false, "zero": false}, "axis": null},
  "y": {"field": "v", "type": "quantitative", "scale": {"domain": [36, 600], "nice": false, "zero": false}, "axis": null},
  "detail": {"field": "s"}}},
{"data": {"name": "ma"},
 "mark": {"type": "line", "strokeWidth": 2.6},
 "encoding": {"x": {"field": "i", "type": "quantitative", "scale": {"domain": [-0.5625, 204.4375], "nice": false, "zero": false}, "axis": null},
  "y": {"field": "v", "type": "quantitative", "scale": {"domain": [36, 600], "nice": false, "zero": false}, "axis": null},
  "detail": {"field": "s"},
  "color": {"field": "k", "type": "nominal", "legend": null, "scale": {"domain": ["g","r","b","o"], "range": ["#0b650b","#b22222","#1e90ff","#d2691e"]}}}},
{"data": {"name": "candles"},
 "mark": {"type": "rule", "strokeWidth": 1},
 "encoding": {"x": {"field": "i", "type": "quantitative", "scale": {"domain": [-0.5625, 204.4375], "nice": false, "zero": false}, "axis": null},
  "y": {"field": "l", "type": "quantitative", "scale": {"domain": [36, 600], "nice": false, "zero": false}, "axis": null}, "y2": {"field": "h"},
  "color": {"field": "t", "type": "nominal", "legend": null, "scale": {"domain": ["g","r"], "range": ["#006400","#b22222"]}}}},
{"data": {"name": "candles"},
 "mark": {"type": "bar", "size": 5},
 "encoding": {"x": {"field": "i", "type": "quantitative", "scale": {"domain": [-0.5625, 204.4375], "nice": false, "zero": false}, "axis": null},
  "y": {"field": "o", "type": "quantitative", "scale": {"domain": [36, 600], "nice": false, "zero": false}, "axis": null}, "y2": {"field": "c"},
  "color": {"field": "t", "type": "nominal", "legend": null, "scale": {"domain": ["g","r"], "range": ["#006400","#b22222"]}}}},
{"data": {"name": "labels"},
 "mark": {"type": "text", "font": "Liberation Sans", "fontSize": 11, "align": "left", "baseline": "alphabetic", "dy": -3},
 "encoding": {"x": {"datum": 166.19, "type": "quantitative", "scale": {"domain": [-0.5625, 204.4375], "nice": false, "zero": false}, "axis": null},
  "y": {"field": "v", "type": "quantitative", "scale": {"domain": [36, 600], "nice": false, "zero": false}, "axis": null},
  "text": {"field": "lab"},
  "color": {"field": "g", "type": "nominal", "legend": null, "scale": {"domain": ["R","P","S"], "range": ["#f07868","#4f8fdc","#5a9a52"]}}}},
{"data": {"name": "one"},
 "mark": {"type": "text", "text": "<--1:39:23", "font": "DejaVu Sans Mono", "fontSize": 18, "align": "left", "baseline": "alphabetic", "color": "#000000"},
 "encoding": {"x": {"datum": 167.31, "type": "quantitative", "scale": {"domain": [-0.5625, 204.4375], "nice": false, "zero": false}, "axis": null},
  "y": {"datum": 338, "type": "quantitative", "scale": {"domain": [36, 600], "nice": false, "zero": false}, "axis": null}}},
{"data": {"name": "one"},
 "mark": {"type": "rect", "color": "#c3cad3"},
 "encoding": {"x": {"datum": -2, "type": "quantitative", "scale": {"domain": [-0.5625, 204.4375], "nice": false, "zero": false}, "axis": null}, "x2": {"datum": 206},
  "y": {"datum": 595, "type": "quantitative", "scale": {"domain": [36, 600], "nice": false, "zero": false}, "axis": null}, "y2": {"datum": 601}}},
{"data": {"name": "one"},
 "mark": {"type": "rule", "color": "#000000", "strokeWidth": 1},
 "encoding": {"y": {"datum": 594.5, "type": "quantitative", "scale": {"domain": [36, 600], "nice": false, "zero": false}, "axis": null}}},
{"data": {"name": "one"},
 "mark": {"type": "rule", "color": "#000000", "strokeWidth": 1},
 "encoding": {"y": {"datum": 39.5, "type": "quantitative", "scale": {"domain": [36, 600], "nice": false, "zero": false}, "axis": null}}},
{"data": {"name": "one"},
 "mark": {"type": "rule", "color": "#000000", "strokeWidth": 1.2},
 "encoding": {"x": {"datum": -0.25, "type": "quantitative", "scale": {"domain": [-0.5625, 204.4375], "nice": false, "zero": false}, "axis": null},
  "y": {"datum": 594.5, "type": "quantitative", "scale": {"domain": [36, 600], "nice": false, "zero": false}, "axis": null}, "y2": {"datum": 39.5}}},
{"data": {"name": "one"},
 "mark": {"type": "point", "shape": "triangle-down", "filled": true, "size": 28, "color": "#000000", "opacity": 1},
 "encoding": {"x": {"datum": 0.62, "type": "quantitative", "scale": {"domain": [-0.5625, 204.4375], "nice": false, "zero": false}, "axis": null},
  "y": {"datum": 586.5, "type": "quantitative", "scale": {"domain": [36, 600], "nice": false, "zero": false}, "axis": null}}},
{"data": {"name": "one"},
 "mark": {"type": "text", "text": "XAUUSD.s,H4", "font": "Liberation Sans", "fontSize": 9.5, "align": "left", "baseline": "middle", "color": "#111111"},
 "encoding": {"x": {"datum": 1.69, "type": "quantitative", "scale": {"domain": [-0.5625, 204.4375], "nice": false, "zero": false}, "axis": null},
  "y": {"datum": 586, "type": "quantitative", "scale": {"domain": [36, 600], "nice": false, "zero": false}, "axis": null}}},
{"data": {"name": "one"},
 "mark": {"type": "rect", "color": "#262c36", "stroke": "#9aa8b8", "strokeWidth": 1},
 "encoding": {"x": {"datum": 12.81, "type": "quantitative", "scale": {"domain": [-0.5625, 204.4375], "nice": false, "zero": false}, "axis": null}, "x2": {"datum": 14.56},
  "y": {"datum": 594, "type": "quantitative", "scale": {"domain": [36, 600], "nice": false, "zero": false}, "axis": null}, "y2": {"datum": 581}}},
{"data": {"name": "one"},
 "mark": {"type": "rect", "color": "#262c36", "stroke": "#9aa8b8", "strokeWidth": 1},
 "encoding": {"x": {"datum": 0.19, "type": "quantitative", "scale": {"domain": [-0.5625, 204.4375], "nice": false, "zero": false}, "axis": null}, "x2": {"datum": 2.19},
  "y": {"datum": 539, "type": "quantitative", "scale": {"domain": [36, 600], "nice": false, "zero": false}, "axis": null}, "y2": {"datum": 525}}},
{"data": {"name": "one"},
 "mark": {"type": "text", "text": "+", "font": "DejaVu Sans", "fontSize": 13, "align": "center", "baseline": "middle", "color": "#ffffff"},
 "encoding": {"x": {"datum": 13.69, "type": "quantitative", "scale": {"domain": [-0.5625, 204.4375], "nice": false, "zero": false}, "axis": null},
  "y": {"datum": 587.5, "type": "quantitative", "scale": {"domain": [36, 600], "nice": false, "zero": false}, "axis": null}}},
{"data": {"name": "one"},
 "mark": {"type": "text", "text": "+", "font": "DejaVu Sans", "fontSize": 13, "align": "center", "baseline": "middle", "color": "#ffffff"},
 "encoding": {"x": {"datum": 1.19, "type": "quantitative", "scale": {"domain": [-0.5625, 204.4375], "nice": false, "zero": false}, "axis": null},
  "y": {"datum": 532, "type": "quantitative", "scale": {"domain": [36, 600], "nice": false, "zero": false}, "axis": null}}},
{"data": {"name": "one"},
 "mark": {"type": "text", "text": "MT4统计每一笔交易", "font": "Noto Sans CJK SC", "fontSize": 11.5, "align": "left", "baseline": "middle", "color": "#ffff00"},
 "encoding": {"x": {"datum": 15.44, "type": "quantitative", "scale": {"domain": [-0.5625, 204.4375], "nice": false, "zero": false}, "axis": null},
  "y": {"datum": 586, "type": "quantitative", "scale": {"domain": [36, 600], "nice": false, "zero": false}, "axis": null}}},
{"data": {"name": "one"},
 "mark": {"type": "text", "text": "MTCommander指挥官", "font": "Noto Sans CJK SC", "fontSize": 11, "align": "left", "baseline": "middle", "color": "#ffff00"},
 "encoding": {"x": {"datum": 2.94, "type": "quantitative", "scale": {"domain": [-0.5625, 204.4375], "nice": false, "zero": false}, "axis": null},
  "y": {"datum": 532, "type": "quantitative", "scale": {"domain": [36, 600], "nice": false, "zero": false}, "axis": null}}},
{"data": {"name": "one"},
 "mark": {"type": "text", "text": "EA_MTcommander指挥官", "font": "Noto Sans CJK SC", "fontSize": 11.5, "align": "left", "baseline": "middle", "color": "#000000"},
 "encoding": {"x": {"datum": 191.81, "type": "quantitative", "scale": {"domain": [-0.5625, 204.4375], "nice": false, "zero": false}, "axis": null},
  "y": {"datum": 585, "type": "quantitative", "scale": {"domain": [36, 600], "nice": false, "zero": false}, "axis": null}}},
{"data": {"name": "one"},
 "mark": {"type": "point", "shape": "triangle-down", "filled": true, "size": 55, "color": "#5a6878", "opacity": 1},
 "encoding": {"x": {"datum": 165.69, "type": "quantitative", "scale": {"domain": [-0.5625, 204.4375], "nice": false, "zero": false}, "axis": null},
  "y": {"datum": 592.5, "type": "quantitative", "scale": {"domain": [36, 600], "nice": false, "zero": false}, "axis": null}}}
]
}
